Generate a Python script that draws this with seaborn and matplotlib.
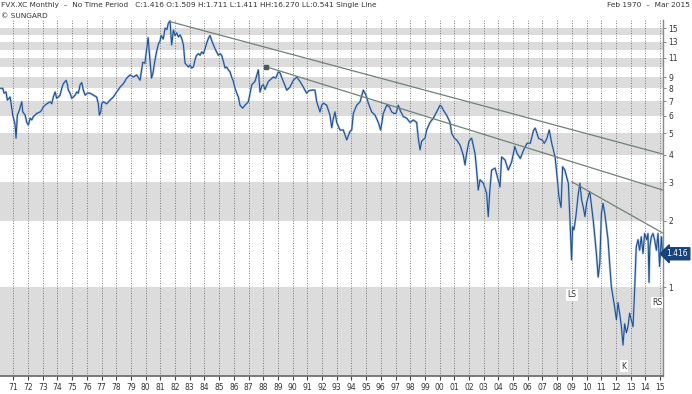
import numpy as np
import pandas as pd
import matplotlib
matplotlib.use("Agg")
import matplotlib.pyplot as plt
import matplotlib.transforms as mtransforms
from matplotlib.ticker import NullLocator
import seaborn as sns

# FVX.XC monthly (5 year yield)
years = [1970.10, 1970.28, 1970.37, 1970.50, 1970.59, 1970.78, 1970.89, 1970.96, 1971.12, 1971.18,
         1971.27, 1971.41, 1971.50, 1971.57, 1971.64, 1971.80, 1971.91, 1972.02, 1972.14, 1972.25,
         1972.36, 1972.59, 1972.82, 1972.93, 1973.04, 1973.27, 1973.50, 1973.61, 1973.72, 1973.84,
         1973.95, 1974.06, 1974.18, 1974.29, 1974.40, 1974.59, 1974.68, 1974.74, 1974.86, 1974.97,
         1975.08, 1975.20, 1975.31, 1975.42, 1975.54, 1975.65, 1975.76, 1975.88, 1976.04, 1976.22,
         1976.44, 1976.67, 1976.78, 1976.85, 1976.94, 1977.01, 1977.12, 1977.35, 1977.58, 1977.80,
         1978.03, 1978.26, 1978.49, 1978.71, 1978.94, 1979.17, 1979.39, 1979.62, 1979.80, 1979.95,
         1980.10, 1980.17, 1980.28, 1980.40, 1980.50, 1980.62, 1980.75, 1980.88, 1980.97, 1981.05,
         1981.20, 1981.32, 1981.45, 1981.54, 1981.66, 1981.77, 1981.89, 1982.00, 1982.11, 1982.23,
         1982.34, 1982.45, 1982.57, 1982.68, 1982.79, 1982.91, 1983.02, 1983.13, 1983.25, 1983.36,
         1983.47, 1983.59, 1983.70, 1983.81, 1983.93, 1984.04, 1984.15, 1984.27, 1984.38, 1984.49,
         1984.61, 1984.72, 1984.83, 1984.95, 1985.06, 1985.17, 1985.29, 1985.40, 1985.51, 1985.63,
         1985.74, 1985.85, 1985.97, 1986.08, 1986.20, 1986.31, 1986.42, 1986.60, 1986.76, 1986.99,
         1987.22, 1987.44, 1987.67, 1987.78, 1987.90, 1988.01, 1988.12, 1988.35, 1988.69, 1988.85,
         1989.03, 1989.14, 1989.37, 1989.60, 1989.82, 1990.05, 1990.28, 1990.50, 1990.73, 1990.95,
         1991.10, 1991.30, 1991.52, 1991.64, 1991.86, 1991.98, 1992.09, 1992.32, 1992.54, 1992.66,
         1992.77, 1992.88, 1993.00, 1993.22, 1993.45, 1993.68, 1993.91, 1994.02, 1994.13, 1994.36,
         1994.59, 1994.81, 1994.99, 1995.15, 1995.38, 1995.61, 1995.83, 1995.99, 1996.17, 1996.40,
         1996.58, 1996.74, 1996.90, 1997.03, 1997.19, 1997.31, 1997.53, 1997.76, 1997.99, 1998.21,
         1998.44, 1998.55, 1998.67, 1998.78, 1999.01, 1999.12, 1999.35, 1999.57, 1999.80, 2000.03,
         2000.14, 2000.25, 2000.48, 2000.71, 2000.82, 2001.00, 2001.16, 2001.39, 2001.61, 2001.73,
         2001.84, 2002.00, 2002.18, 2002.41, 2002.52, 2002.63, 2002.75, 2002.97, 2003.20, 2003.31,
         2003.42, 2003.54, 2003.77, 2003.99, 2004.11, 2004.22, 2004.45, 2004.67, 2004.90, 2005.12,
         2005.27, 2005.49, 2005.72, 2005.95, 2006.17, 2006.40, 2006.51, 2006.74, 2006.97, 2007.13,
         2007.30, 2007.46, 2007.63, 2007.86, 2007.97, 2008.12, 2008.26, 2008.37, 2008.52, 2008.76,
         2008.87, 2008.98, 2009.05, 2009.14, 2009.27, 2009.44, 2009.55, 2009.66, 2009.78, 2009.89,
         2010.00, 2010.11, 2010.22, 2010.33, 2010.45, 2010.56, 2010.67, 2010.79, 2010.90, 2011.01,
         2011.12, 2011.24, 2011.35, 2011.46, 2011.57, 2011.69, 2011.80, 2011.91, 2012.03, 2012.14,
         2012.25, 2012.37, 2012.48, 2012.59, 2012.71, 2012.82, 2012.93, 2013.04, 2013.16, 2013.27,
         2013.38, 2013.50, 2013.61, 2013.72, 2013.84, 2013.95, 2014.09, 2014.18, 2014.25, 2014.30,
         2014.41, 2014.52, 2014.63, 2014.75, 2014.86, 2014.97, 2015.09, 2015.17]
yields = [8.0, 8.0, 7.6, 7.7, 7.07, 7.3, 6.5, 6.04, 5.45, 4.75,
          6.04, 6.37, 6.7, 6.95, 6.25, 6.04, 5.6, 5.45, 5.85, 5.75,
          5.95, 6.15, 6.25, 6.37, 6.6, 6.8, 6.95, 6.8, 7.3, 7.7,
          7.2, 7.3, 7.45, 8.0, 8.4, 8.7, 8.3, 7.85, 7.6, 7.2,
          7.3, 7.45, 7.7, 7.6, 8.3, 8.5, 7.85, 7.45, 7.6, 7.6,
          7.45, 7.3, 6.8, 6.04, 6.25, 6.8, 6.95, 6.8, 7.07, 7.3,
          7.7, 8.1, 8.4, 8.9, 9.2, 9.0, 9.2, 8.7, 10.5, 10.4,
          12.5, 13.6, 11.0, 8.9, 9.4, 10.6, 11.8, 12.8, 13.0, 13.9,
          13.4, 15.0, 14.8, 15.8, 16.2, 12.6, 14.7, 13.9, 14.3, 13.7,
          14.0, 13.5, 12.6, 10.4, 10.2, 10.0, 10.2, 9.9, 10.0, 10.8,
          11.3, 11.5, 11.3, 11.7, 11.5, 12.1, 12.8, 13.5, 13.9, 13.2,
          12.6, 12.1, 11.7, 11.3, 11.5, 11.3, 10.6, 9.9, 10.0, 9.7,
          9.5, 9.0, 8.6, 8.0, 7.6, 7.3, 6.7, 6.5, 6.7, 6.95,
          8.3, 8.6, 9.7, 7.7, 8.2, 8.3, 7.9, 8.6, 9.0, 8.9,
          9.5, 9.4, 8.6, 7.85, 8.1, 8.7, 9.0, 8.6, 8.1, 7.6,
          7.8, 7.85, 7.85, 6.95, 6.25, 6.7, 6.85, 6.7, 6.04, 5.3,
          5.85, 6.25, 5.6, 5.17, 5.17, 4.66, 5.1, 5.17, 6.15, 6.7,
          6.95, 7.85, 7.45, 6.85, 6.25, 6.04, 5.6, 5.17, 6.15, 6.7,
          6.6, 6.25, 6.15, 6.15, 6.7, 6.37, 5.95, 5.85, 5.6, 5.74,
          5.6, 4.75, 4.2, 4.6, 4.75, 5.17, 5.6, 5.85, 6.25, 6.7,
          6.6, 6.37, 6.04, 5.6, 5.0, 4.75, 4.66, 4.42, 3.98, 3.59,
          4.05, 4.6, 4.75, 4.05, 3.4, 2.76, 3.07, 2.97, 2.67, 2.09,
          2.76, 3.4, 3.47, 3.07, 2.85, 3.9, 3.78, 3.4, 3.7, 4.35,
          4.05, 3.84, 4.2, 4.5, 4.5, 5.17, 5.27, 4.73, 4.66, 4.5,
          4.73, 5.17, 4.5, 3.9, 3.3, 2.57, 2.3, 3.52, 3.4, 2.96,
          2.02, 1.33, 1.88, 1.82, 2.09, 2.66, 2.96, 2.49, 2.3, 2.09,
          2.4, 2.57, 2.71, 2.36, 2.02, 1.69, 1.42, 1.11, 1.28, 2.16,
          2.4, 2.16, 1.88, 1.64, 1.28, 1.0, 0.90, 0.81, 0.71, 0.85,
          0.76, 0.66, 0.545, 0.68, 0.62, 0.66, 0.76, 0.71, 0.66, 0.97,
          1.52, 1.64, 1.47, 1.69, 1.42, 1.75, 1.64, 1.75, 1.05, 1.52,
          1.69, 1.75, 1.64, 1.47, 1.75, 1.24, 1.69, 1.416]
assert len(years) == len(yields)

# trend lines drawn on the original chart (start / end in year, yield)
trend_years = [[1981.66, 2015.18], [1988.19, 2015.18], [2008.99, 2015.18]]
trend_values = [[16.07, 4.02], [10.03, 2.76], [3.01, 1.76]]

# pattern labels
label_texts = ["LS", "K", "RS"]
label_years = [2009.0, 2012.55, 2014.8]
label_values = [0.92, 0.437, 0.85]

ytick_values = [1, 2, 3, 4, 5, 6, 7, 8, 9, 11, 13, 15]
year_ticks = list(range(1971, 2016))
last_close = 1.416

df = pd.DataFrame({"year": years, "yield": yields})

sns.set_style("white")
plt.rcParams["font.family"] = ["DejaVu Sans"]

fig = plt.figure(figsize=(6.92, 3.94), dpi=100)
ax = fig.add_axes([0.0, 1 - 376 / 394, 662.7 / 692, 356 / 394])

ax.set_yscale("log")
ax.set_ylim(0.394, 16.35)
ax.set_xlim(1970.09, 2015.18)

# alternating grey bands
for k in range(0, 16, 2):
    ax.axhspan(max(k, 0.3), k + 1, color="#dcdcdc", lw=0, zorder=0)

# light halo + dark line
sns.lineplot(data=df, x="year", y="yield", ax=ax, color="#a9c1e0", lw=1.6,
             estimator=None, sort=False, zorder=2)
sns.lineplot(data=df, x="year", y="yield", ax=ax, color="#1f4e8c", lw=0.75,
             estimator=None, sort=False, zorder=3)

for tx, tv in zip(trend_years, trend_values):
    ax.plot(tx, tv, color="#6d8279", lw=0.9, zorder=4)
ax.plot(trend_years[1][0], trend_values[1][0], "s", ms=2.2, color="#4a5a55", zorder=5)

for t, x, v in zip(label_texts, label_years, label_values):
    ax.text(x, v, t, fontsize=5.5, color="#333333", ha="center", va="center", zorder=6,
            bbox=dict(boxstyle="square,pad=0.15", fc="white", ec="none"))

ax.set_xlabel("")
ax.set_ylabel("")
ax.set_xticks(year_ticks)
ax.set_xticklabels([f"{y % 100:02d}" for y in year_ticks])
ax.grid(axis="x", color="#555555", linestyle=(0, (1, 2)), lw=0.6)
ax.grid(axis="y", visible=False)
ax.tick_params(axis="x", length=3, width=0.8, color="#444444", labelsize=5.5,
               pad=2, labelcolor="#333333", bottom=True)

ax.yaxis.tick_right()
ax.set_yticks(ytick_values)
ax.set_yticklabels([str(v) for v in ytick_values])
ax.yaxis.set_minor_locator(NullLocator())
ax.tick_params(axis="y", length=2, width=0.6, color="#777777", labelsize=5.5,
               pad=2, labelcolor="#333333", right=True)

for s in ["left", "top"]:
    ax.spines[s].set_visible(False)
ax.spines["bottom"].set_color("#666666")
ax.spines["bottom"].set_linewidth(1.2)
ax.spines["right"].set_color("#8a8a8a")
ax.spines["right"].set_linewidth(1.0)

# last value marker on the right axis
trans = mtransforms.blended_transform_factory(ax.transAxes, ax.transData)
ax.text(1.006, last_close, f"{last_close:.3f}", transform=trans, fontsize=5.5, color="white",
        ha="left", va="center", clip_on=False, zorder=7,
        bbox=dict(boxstyle="larrow,pad=0.2", fc="#17437a", ec="#17437a"))

fig.text(1 / 692, 1 - 5 / 394,
         "FVX.XC Monthly  \u2013  No Time Period   C:1.416 O:1.509 H:1.711 L:1.411 "
         "HH:16.270 LL:0.541 Single Line",
         fontsize=5.3, color="#333333", ha="left", va="center")
fig.text(1 / 692, 1 - 15.5 / 394, "\u00a9 SUNGARD", fontsize=5.3, color="#333333",
         ha="left", va="center")
fig.text(690 / 692, 1 - 5 / 394, "Feb 1970  \u2013  Mar 2015", fontsize=5.3, color="#333333",
         ha="right", va="center")

fig.savefig("out.png", dpi=100)
